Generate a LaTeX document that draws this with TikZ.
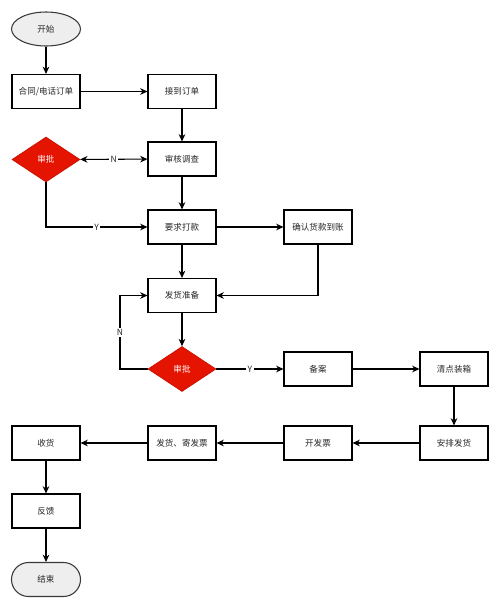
\documentclass[tikz,border=0pt]{standalone}
\usepackage{fontspec}
\newfontfamily\cjk{Noto Sans CJK SC}
\usepackage{tikz}
\usetikzlibrary{arrows.meta}
\usetikzlibrary{shapes.geometric}
\definecolor{flowred}{HTML}{E51400}
\definecolor{flowredline}{HTML}{C81000}
\definecolor{termfill}{HTML}{EEEEEE}
\definecolor{termline}{HTML}{36393D}
\tikzset{
    stepbox/.style={draw, line width=0.8pt, minimum width=51pt, minimum height=25.5pt, inner sep=1pt},
    decide/.style={diamond, draw=flowredline, fill=flowred, text=white, line width=0.5pt,
        minimum width=51pt, minimum height=33.75pt, inner sep=0pt, aspect=1.5},
    term/.style={draw=termline, fill=termfill, line width=0.8pt, minimum width=51.75pt, minimum height=25.5pt, inner sep=1pt},
    arr/.style={-{Stealth[length=5.5pt,width=5pt]}, line width=0.8pt},
    lbl/.style={fill=white, inner sep=1pt}
}

\begin{document}
\begin{tikzpicture}[x=0.75pt, y=-0.75pt, font=\cjk\fontsize{6.4}{8}\selectfont, text=black!85]
        \useasboundingbox (0,0) rectangle (500,608);

        \node[term, ellipse] (start) at (46,29) {开始};
        \node[stepbox] (order) at (46,91.5) {合同/电话订单};
        \node[stepbox] (recv) at (182,91.5) {接到订单};
        \node[stepbox] (check) at (182,159) {审核调查};
        \node[decide] (ok1) at (46,159.5) {审批};
        \node[stepbox] (pay) at (182,227) {要求打款};
        \node[stepbox] (paid) at (318,227) {确认货款到账};
        \node[stepbox] (prep) at (182,295.5) {发货准备};
        \node[decide] (ok2) at (182,369) {审批};
        \node[stepbox] (file) at (318,369) {备案};
        \node[stepbox] (pack) at (454,369) {清点装箱};
        \node[stepbox] (ship) at (454,443) {安排发货};
        \node[stepbox] (bill) at (318,443) {开发票};
        \node[stepbox] (send) at (182,443) {发货、寄发票};
        \node[stepbox] (take) at (46,443) {收货};
        \node[stepbox] (back) at (46,511) {反馈};
        \node[term, rounded corners=12.75pt] (stop) at (46,579.5) {结束};

        \coordinate (loop) at (120,369);

        \foreach \a/\b in {start/order, order/recv, recv/check, check/pay, pay/paid, pay/prep,
                prep/ok2, file/pack, pack/ship, ship/bill, bill/send, send/take, take/back, back/stop} {
            \draw[arr] (\a) -- (\b);
        }
        \draw[arr, {Stealth[length=5.5pt,width=5pt]}-{Stealth[length=5.5pt,width=5pt]}] (ok1) -- node[lbl] {N} (check);
        \draw[arr] (ok1.south) |- node[lbl, pos=0.75] {Y} (pay.west);
        \draw[arr] (paid.south) |- (prep.east);
        \draw[arr] (ok2.west) -- (loop) |- node[lbl, pos=0.25] {N} (prep.west);
        \draw[arr] (ok2) -- node[lbl] {Y} (file);
    \end{tikzpicture}
\end{document}
